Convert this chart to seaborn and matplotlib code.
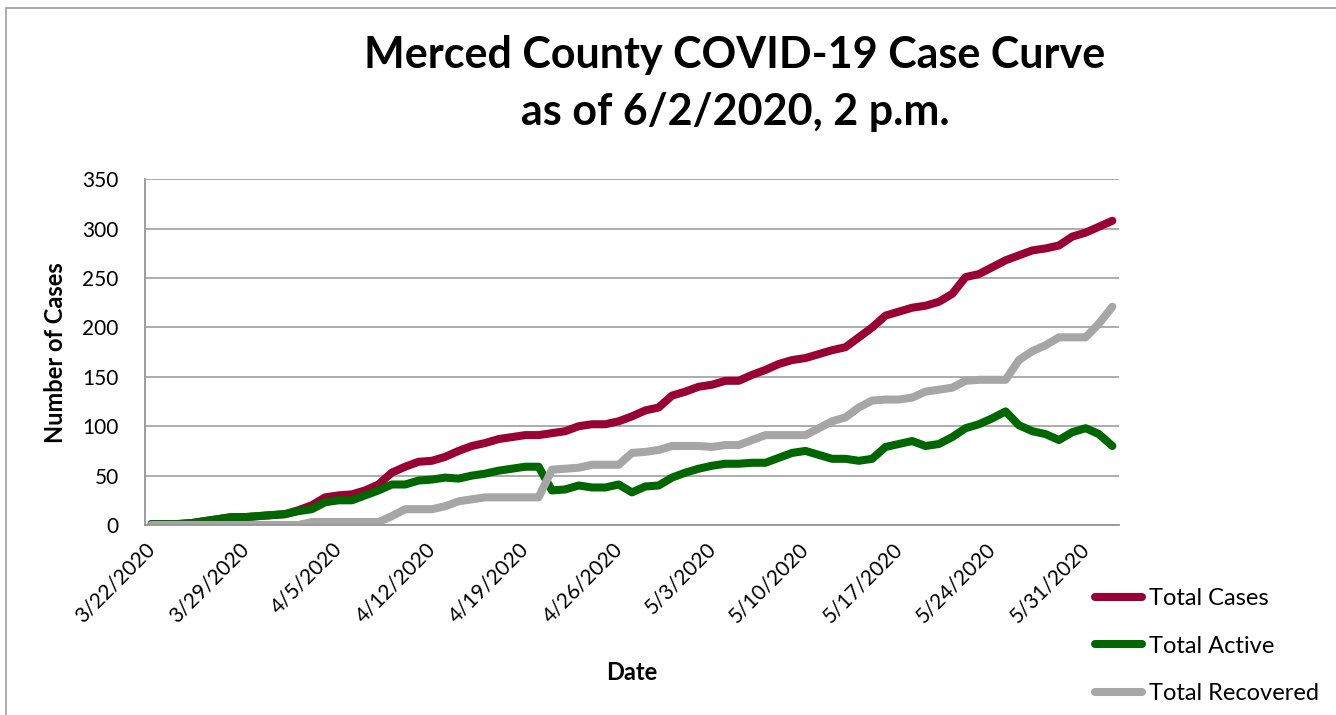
import numpy as np
import pandas as pd
import seaborn as sns
import matplotlib.pyplot as plt
from matplotlib.lines import Line2D

# daily values (3/22/2020 .. 6/2/2020)
dates = pd.date_range("2020-03-22", "2020-06-02", freq="D")

total_cases = [1, 1, 1, 2, 4, 6, 8, 8, 9, 10,
               11, 15, 20, 28, 30, 31, 35, 41, 53, 59,
               64, 65, 69, 75, 80, 83, 87, 89, 91, 91,
               93, 95, 100, 102, 102, 105, 110, 116, 119, 131,
               135, 140, 142, 146, 146, 152, 157, 163, 167, 169,
               173, 177, 180, 190, 200, 212, 216, 220, 222, 226,
               234, 251, 254, 261, 268, 273, 278, 280, 283, 292,
               296, 302, 308]
total_active = [1, 1, 1, 2, 4, 6, 8, 8, 9, 10,
                11, 14, 16, 23, 25, 25, 30, 35, 41, 41,
                45, 46, 48, 47, 50, 52, 55, 57, 59, 59,
                35, 36, 40, 38, 38, 41, 33, 39, 40, 48,
                53, 57, 60, 62, 62, 63, 63, 68, 73, 75,
                71, 67, 67, 65, 67, 79, 82, 85, 80, 82,
                89, 98, 102, 108, 115, 101, 95, 92, 86, 94,
                98, 92, 80]
total_recovered = [0, 0, 0, 0, 0, 0, 0, 0, 0, 0,
                   0, 0, 3, 3, 3, 3, 3, 3, 9, 16,
                   16, 16, 19, 24, 26, 28, 28, 28, 28, 28,
                   56, 57, 58, 61, 61, 61, 73, 74, 76, 80,
                   80, 80, 79, 81, 81, 86, 91, 91, 91, 91,
                   98, 105, 109, 119, 126, 127, 127, 129, 135, 137,
                   139, 146, 147, 147, 147, 167, 176, 182, 190, 190,
                   190, 204, 221]

series_names = ["Total Cases", "Total Active", "Total Recovered"]
colors = ["#990033", "#006600", "#A6A6A6"]

df = pd.DataFrame({
    "day": np.arange(len(dates)),
    "Total Cases": total_cases,
    "Total Active": total_active,
    "Total Recovered": total_recovered,
}).melt(id_vars="day", var_name="series", value_name="cases")

sns.set_style("white")
plt.rcParams["font.family"] = ["Lato", "DejaVu Sans"]
plt.rcParams["text.color"] = "black"
plt.rcParams["axes.labelcolor"] = "black"
plt.rcParams["xtick.color"] = "black"
plt.rcParams["ytick.color"] = "black"

W, H = 1336, 715
fig = plt.figure(figsize=(W / 100, H / 100), dpi=100)
ax = fig.add_axes([145 / W, 1 - 525 / H, 974 / W, 345.7 / H])

sns.lineplot(data=df, x="day", y="cases", hue="series", hue_order=series_names,
             palette=colors, linewidth=5.8, solid_capstyle="round",
             legend=False, ax=ax)

grid_col = "#A6A6A6"
ax.set_xlim(-0.5, len(dates) - 0.5)
ax.set_ylim(0, 350)
ax.set_yticks(range(0, 351, 50))
ax.yaxis.grid(True, color=grid_col, lw=1.3)
ax.xaxis.grid(False)
ax.set_axisbelow(True)
for s in ["top", "right"]:
    ax.spines[s].set_visible(False)
for s in ["left", "bottom"]:
    ax.spines[s].set_color("#969696")
    ax.spines[s].set_linewidth(1.3)

ax.set_xticks(np.arange(0, len(dates), 7) - 0.5)
ax.set_xticklabels([f"{d.month}/{d.day}/{d.year}" for d in dates[::7]],
                   rotation=45, ha="right", rotation_mode="anchor")
ax.tick_params(axis="y", length=6, width=1.2, color="#969696", labelcolor="black",
               pad=13, labelsize=15)
ax.tick_params(axis="x", length=6, width=1.2, color="#969696", labelcolor="black",
               pad=4, labelsize=15)

ax.set_ylabel("Number of Cases", fontsize=17, fontweight="bold", va="center")
ax.yaxis.set_label_coords((56 - 145) / 974, 0.5)
ax.set_xlabel("Date", fontsize=17, fontweight="bold", va="center")
ax.xaxis.set_label_coords(0.5, (525 - 673) / 345.7)

fig.text(735 / W, 1 - 68 / H, "Merced County COVID-19 Case Curve",
         ha="center", va="baseline", fontsize=31, fontweight="bold")
fig.text(735 / W, 1 - 125 / H, "as of 6/2/2020, 2 p.m.",
         ha="center", va="baseline", fontsize=31, fontweight="bold")

handles = [Line2D([], [], color=c, lw=5.8, solid_capstyle="round") for c in colors]
fig.legend(handles, series_names, loc="upper left",
           bbox_to_anchor=(1095 / W, 1 - 588 / H), frameon=False, fontsize=17,
           handlelength=2.0, handletextpad=0.3, labelspacing=1.13,
           borderpad=0, borderaxespad=0)

# chart border
fig.add_artist(Line2D([6 / W, 6 / W], [0, 1 - 8 / H], transform=fig.transFigure,
                      color="#A0A0A0", lw=1.2))
fig.add_artist(Line2D([6 / W, 1], [1 - 8 / H, 1 - 8 / H], transform=fig.transFigure,
                      color="#A0A0A0", lw=1.2))

fig.savefig("out.png", dpi=100, facecolor="white")
